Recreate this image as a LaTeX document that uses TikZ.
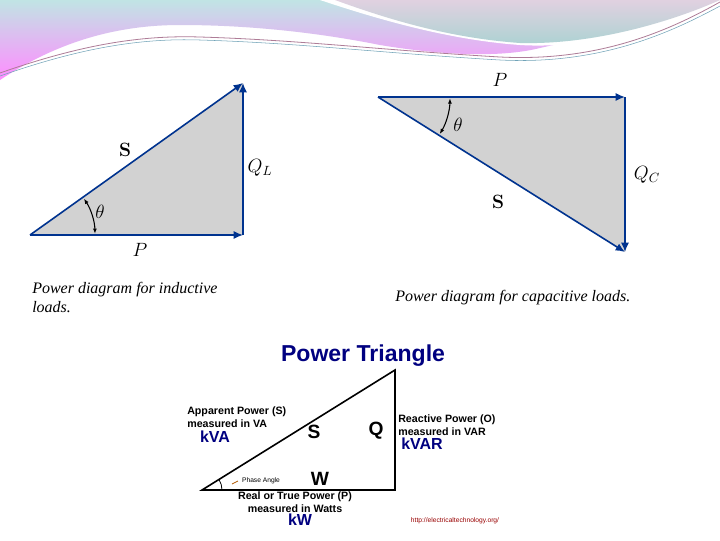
\documentclass[tikz,border=0pt]{standalone}
\usepackage{fontspec}
\setsansfont{Liberation Sans}
\newfontfamily\capfont{Liberation Serif}
\usetikzlibrary{arrows.meta}
\begin{document}
\begin{tikzpicture}[x=0.75pt,y=-0.75pt,
  edge/.style={draw=blue!45!black!80!cyan, line width=1.2pt},
  arr/.style={edge,-{Latex[length=7pt,width=6pt]}},
  lbl/.style={font=\Large},
  bt/.style={font=\sffamily\bfseries\footnotesize, align=center, inner sep=0pt},
  btb/.style={font=\sffamily\bfseries\large, text=blue!50!black, inner sep=0pt}]
\useasboundingbox (0,0) rectangle (720,540);
\fill[white] (0,0) rectangle (720,540);
% header
\shade[top color=gray!60!cyan!35!white, bottom color=magenta!45!white]
  (0,0) -- (0,80) .. controls (60,40) and (120,25) .. (180,25) .. controls (260,25) and (330,35) .. (380,45) .. controls (440,55) and (500,58) .. (540,48) .. controls (620,30) and (680,10) .. (720,0) -- cycle;
\fill[white] (320,0) .. controls (380,20) and (450,40) .. (520,45) .. controls (600,50) and (680,20) .. (720,0) -- cycle;
\shade[top color=magenta!20!gray!30!white, bottom color=cyan!30!gray!50!white]
  (335,0) .. controls (390,20) and (450,38) .. (520,43) .. controls (600,45) and (680,18) .. (720,0) -- cycle;
\draw[gray!70!magenta, line width=0.6pt] (0,73) .. controls (80,45) and (140,35) .. (200,37) .. controls (300,40) and (380,50) .. (500,57) .. controls (600,62) and (670,30) .. (720,2);
\draw[gray!60!cyan, line width=0.4pt] (0,76) .. controls (80,48) and (140,38) .. (200,40) .. controls (300,43) and (380,53) .. (500,60) .. controls (600,65) and (670,33) .. (720,6);
% left triangle
\coordinate (a1) at (30,235); \coordinate (b1) at (243,235); \coordinate (c1) at (243,83);
\fill[gray!35] (a1) -- (b1) -- (c1) -- cycle;
\draw[arr] (a1) -- (b1);
\draw[arr] (b1) -- (c1);
\draw[arr] (a1) -- (c1);
\node[lbl,font=\Large\bfseries] (s1) at (125,150) {S};
\node[lbl] (q1) at (260,168) {$Q_L$};
\node[lbl] (p1) at (140,250) {$P$};
\node[lbl] (t1) at (100,212) {$\theta$};
\draw[black, line width=0.8pt, {Latex[length=4pt]}-{Latex[length=4pt]}] (a1) ++(-34:65) arc[start angle=-34, end angle=-1, radius=65];
% right triangle
\coordinate (a2) at (378,97); \coordinate (b2) at (625,97); \coordinate (c2) at (625,252);
\fill[gray!35] (a2) -- (b2) -- (c2) -- cycle;
\draw[arr] (a2) -- (b2);
\draw[arr] (b2) -- (c2);
\draw[arr] (a2) -- (c2);
\node[lbl] (p2) at (500,80) {$P$};
\node[lbl] (q2) at (647,175) {$Q_C$};
\node[lbl,font=\Large\bfseries] (s2) at (498,202) {S};
\node[lbl] (t2) at (458,125) {$\theta$};
\draw[black, line width=0.8pt, {Latex[length=4pt]}-{Latex[length=4pt]}] (a2) ++(1:72) arc[start angle=1, end angle=31, radius=72];
% captions
\node[font=\capfont\itshape\large, align=left, anchor=north west, inner sep=0pt] (cap1) at (32,282) {Power diagram for inductive\\loads.};
\node[font=\capfont\itshape\large, anchor=north west, inner sep=0pt] (cap2) at (395,290) {Power diagram for capacitive loads.};
% bottom triangle
\coordinate (a3) at (202,490); \coordinate (b3) at (395,490); \coordinate (c3) at (395,370);
\draw[black, line width=1.2pt] (a3) -- (b3) -- (c3) -- cycle;
\draw[black, line width=0.6pt] (a3) ++(0:20) arc[start angle=0, end angle=-32, radius=20];
\node[font=\sffamily\bfseries\LARGE, text=blue!50!black] (title) at (363,356) {Power Triangle};
\node[bt, anchor=west, align=left] (app) at (187,417) {Apparent Power (S)\\measured in VA};
\node[btb] (kva) at (215,437) {kVA};
\node[font=\sffamily\bfseries\Large] (S3) at (314,432) {S};
\node[font=\sffamily\bfseries\Large] (Q3) at (376,431) {Q};
\node[bt, anchor=west, align=left] (rea) at (398,425) {Reactive Power (O)\\measured in VAR};
\node[btb] (kvar) at (422,444) {kVAR};
\node[font=\sffamily\bfseries\Large] (W3) at (320,479) {W};
\node[font=\sffamily\tiny, inner sep=0pt] (pa) at (261,481) {Phase Angle};
\draw[orange!70!black, line width=0.6pt] (232,484) -- (238,481);
\node[bt] (real) at (295,502) {Real or True Power (P)\\measured in Watts};
\node[btb] (kw) at (300,520) {kW};
\node[font=\sffamily\tiny, text=red!60!black, inner sep=0pt] (url) at (455,521) {http://electricaltechnology.org/};
\end{tikzpicture}
\end{document}
